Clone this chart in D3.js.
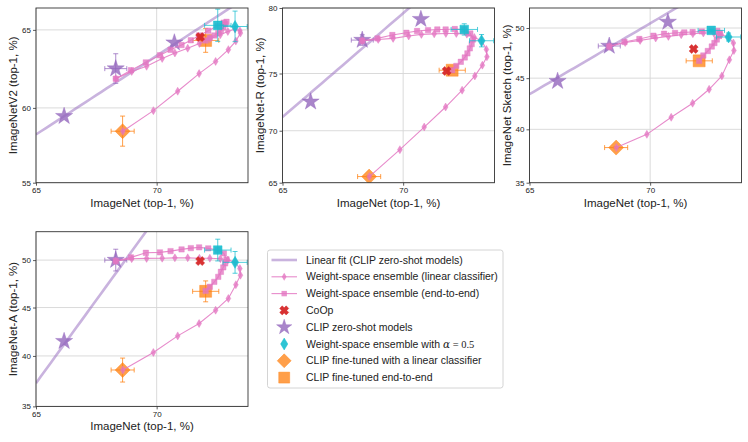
<!DOCTYPE html>
<html><head><meta charset="utf-8">
<script src="https://cdn.jsdelivr.net/npm/d3@7"></script>
<style>
body{margin:0;background:#fff}
svg{display:block}
text{font-family:"Liberation Sans",Arial,sans-serif;fill:#222}
</style>
</head><body>
<svg id="chart" width="748" height="442"></svg>
<script>
// ---------------- data ----------------
const xTicks = [65, 70];
const v2Ticks = [55, 60, 65];
const rTicks = [65, 70, 75, 80];
const sketchTicks = [35, 40, 45, 50];
const aTicks = [35, 40, 45, 50];

// ImageNet accuracies along the weight-space ensemble curves
const inLinear = [68.35, 69.0, 69.6, 70.22, 70.72, 71.22, 71.67, 72.07, 72.47, 72.75, 73.02, 73.2, 73.22, 73.05, 72.77, 72.29, 71.66, 70.83, 69.87, 68.64];
const inE2E = [68.35, 68.97, 69.57, 70.13, 70.55, 70.98, 71.34, 71.66, 72.01, 72.37, 72.6, 72.7, 72.65, 72.58, 72.49, 72.39, 72.24, 72.07, 71.91];

const v2Linear = [61.9, 62.37, 62.7, 63.2, 63.55, 63.85, 64.15, 64.45, 64.7, 64.9, 65.05, 64.95, 64.8, 64.3, 63.76, 63.01, 62.23, 61.09, 59.82, 58.46];
const rLinear = [77.6, 77.7, 77.78, 77.96, 78.08, 78.12, 78.15, 78.15, 78.1, 77.85, 77.6, 76.93, 76.35, 75.68, 74.8, 73.6, 72.14, 70.34, 68.22, 65.61];
const sketchLinear = [48.15, 48.55, 48.76, 49.0, 49.16, 49.33, 49.43, 49.5, 49.5, 49.33, 49.1, 48.5, 47.75, 46.82, 45.22, 43.9, 42.53, 41.16, 39.52, 38.26];
const aLinear = [49.9, 50.15, 50.18, 50.2, 50.24, 50.24, 50.2, 50.2, 50.15, 50.0, 49.8, 49.1, 48.4, 47.4, 45.95, 44.72, 43.33, 42.05, 40.35, 38.58];

const v2E2E = [61.9, 62.45, 62.95, 63.4, 63.75, 64.05, 64.35, 64.65, 64.95, 65.25, 65.45, 65.5, 65.35, 65.15, 64.95, 64.8, 64.65, 64.5, 64.34];
const rE2E = [77.6, 77.78, 78.03, 78.2, 78.33, 78.4, 78.45, 78.45, 78.48, 78.45, 78.15, 77.7, 77.34, 77.01, 76.62, 76.3, 75.95, 75.62, 75.27];
const sketchE2E = [48.15, 48.6, 48.9, 49.23, 49.43, 49.5, 49.56, 49.6, 49.66, 49.76, 49.7, 49.5, 49.2, 48.85, 48.5, 48.15, 47.7, 47.25, 46.72];
const aE2E = [49.9, 50.29, 50.77, 50.82, 50.95, 51.13, 51.27, 51.35, 51.24, 51.06, 50.71, 50.07, 49.65, 49.23, 48.76, 48.23, 47.7, 47.18, 46.75];

// CLIP zero-shot models
const inZeroShot = [66.2, 68.35, 70.7];
const inZeroShotErr = [0, 0.45, 0];
const v2ZeroShot = [59.45, 62.55, 64.2];
const v2ZeroShotErr = [0, 0.95, 0];
const rZeroShot = [72.6, 77.65, 79.2];
const rZeroShotErr = [0, 0.4, 0];
const sketchZeroShot = [44.7, 48.2, 50.6];
const sketchZeroShotErr = [0, 0.2, 0];
const aZeroShot = [41.5, 50.0];
const aZeroShotErr = [0, 1.15];

// linear fit of zero-shot models (logit space): [slope, intercept]
const v2Fit = [0.9436, -0.2515];
const rFit = [1.997, -0.3288];
const sketchFit = [1.2416, -1.0335];
const aFit = [3.08, -2.4272];

// single points: [ImageNet, ImageNet err] and per-dataset [value, err]
const inCoOp = 71.7;
const coop = {v2: 64.55, r: 75.21, sketch: 47.9, a: 49.9};
const inFtLinear = [68.63, 0.47];
const ftLinear = {v2: [58.46, 1.0], r: [65.61, 0.1], sketch: [38.26, 0.1], a: [38.58, 1.2]};
const inFtE2E = [71.91, 0.5];
const ftE2E = {v2: [64.34, 0.75], r: [75.27, 0.2], sketch: [46.72, 0.2], a: [46.7, 1.1]};
const inWseLin = [73.02, 0.45];
const wseLin = {v2: [65.21, 0.95], r: [77.6, 0.47], sketch: [49.1, 0.4], a: [49.76, 1.15]};
const inWseE2E = [72.37, 0.5];
const wseE2E = {v2: [65.28, 1.0], r: [78.45, 0.42], sketch: [49.76, 0.1], a: [51.06, 1.15]};

// ---------------- drawing ----------------
const C = {
  purple: '#9467bd', pink: '#e377c2', red: '#d62728', cyan: '#17becf', orange: '#ff7f0e',
  grid: '#d6d6d6', spine: '#333'
};
const logit = p => Math.log(p / (100 - p));
const expit = v => 100 / (1 + Math.exp(-v));

const panels = [
  {key: 'v2', label: 'ImageNetV2 (top-1, %)', left: 36, top: 8, ydom: [55, 66.35], yticks: v2Ticks,
   lin: v2Linear, e2e: v2E2E, zs: v2ZeroShot, zsErr: v2ZeroShotErr, fit: v2Fit},
  {key: 'r', label: 'ImageNet-R (top-1, %)', left: 282.5, top: 8, ydom: [65, 80], yticks: rTicks,
   lin: rLinear, e2e: rE2E, zs: rZeroShot, zsErr: rZeroShotErr, fit: rFit},
  {key: 'sketch', label: 'ImageNet Sketch (top-1, %)', left: 529.5, top: 8, ydom: [35, 52], yticks: sketchTicks,
   lin: sketchLinear, e2e: sketchE2E, zs: sketchZeroShot, zsErr: sketchZeroShotErr, fit: sketchFit},
  {key: 'a', label: 'ImageNet-A (top-1, %)', left: 36, top: 231.7, ydom: [35, 53], yticks: aTicks,
   lin: aLinear, e2e: aE2E, zs: aZeroShot, zsErr: aZeroShotErr, fit: aFit}
];
const W = 212, H = 174.7;
const xdom = [65, 73.5];

const svg = d3.select('#chart');

function diamondPath(hw, hh) { return `M0,${-hh}L${hw},0L0,${hh}L${-hw},0Z`; }
function squarePath(h) { return `M${-h},${-h}H${h}V${h}H${-h}Z`; }
function xPath(L, w) {
  // filled X: plus rotated 45deg
  const pts = [[w,w],[L,w],[L,-w],[w,-w],[w,-L],[-w,-L],[-w,-w],[-L,-w],[-L,w],[-w,w],[-w,L],[w,L]];
  const c = Math.SQRT1_2;
  return 'M' + pts.map(([x,y]) => [(x - y) * c, (x + y) * c].map(v => v.toFixed(2)).join(',')).join('L') + 'Z';
}
const starPath = r => d3.symbol(d3.symbolStar, r * r / 0.8908130915292852)();

panels.forEach((p, pi) => {
  const g = svg.append('g').attr('transform', `translate(${p.left},${p.top})`);
  const sx = d3.scaleLinear().domain(xdom.map(logit)).range([0, W]);
  const sy = d3.scaleLinear().domain(p.ydom.map(logit)).range([H, 0]);
  const X = v => sx(logit(v)), Y = v => sy(logit(v));

  const clipId = 'clip' + pi;
  g.append('clipPath').attr('id', clipId).append('rect').attr('width', W).attr('height', H);

  // grid
  g.append('g').selectAll('line').data(xTicks).join('line')
    .attr('x1', d => X(d)).attr('x2', d => X(d)).attr('y1', 0).attr('y2', H)
    .attr('stroke', C.grid).attr('stroke-width', 0.9);
  g.append('g').selectAll('line').data(p.yticks).join('line')
    .attr('y1', d => Y(d)).attr('y2', d => Y(d)).attr('x1', 0).attr('x2', W)
    .attr('stroke', C.grid).attr('stroke-width', 0.9);

  // axes
  const ax = g.append('g').attr('transform', `translate(0,${H})`)
    .call(d3.axisBottom(sx).tickValues(xTicks.map(logit)).tickFormat(d => Math.round(expit(d))).tickSize(3).tickPadding(2));
  const ay = g.append('g')
    .call(d3.axisLeft(sy).tickValues(p.yticks.map(logit)).tickFormat(d => Math.round(expit(d))).tickSize(3).tickPadding(2));
  [ax, ay].forEach(a => {
    a.select('.domain').remove();
    a.selectAll('line').attr('stroke', C.spine).attr('stroke-width', 0.8);
    a.selectAll('text').style('font-size', '8px').attr('fill', '#222');
  });

  const plot = g.append('g').attr('clip-path', `url(#${clipId})`);

  // linear fit line
  const [slope, icpt] = p.fit;
  const fitXs = d3.range(0, 41).map(i => xdom[0] + (xdom[1] - xdom[0]) * i / 40);
  plot.append('path')
    .attr('d', d3.line().x(d => X(d)).y(d => sy(icpt + slope * logit(d)))(fitXs))
    .attr('fill', 'none').attr('stroke', C.purple).attr('stroke-opacity', 0.5).attr('stroke-width', 2.6);

  function errbar(x, xe, y, ye, color) {
    const eg = plot.append('g').attr('stroke', color).attr('stroke-width', 1).attr('stroke-opacity', 0.75);
    const cap = 2.5;
    if (xe > 0) {
      eg.append('line').attr('x1', X(x - xe)).attr('x2', X(x + xe)).attr('y1', Y(y)).attr('y2', Y(y));
      [x - xe, x + xe].forEach(v => eg.append('line').attr('x1', X(v)).attr('x2', X(v)).attr('y1', Y(y) - cap).attr('y2', Y(y) + cap));
    }
    if (ye > 0) {
      eg.append('line').attr('y1', Y(y - ye)).attr('y2', Y(y + ye)).attr('x1', X(x)).attr('x2', X(x));
      [y - ye, y + ye].forEach(v => eg.append('line').attr('y1', Y(v)).attr('y2', Y(v)).attr('x1', X(x) - cap).attr('x2', X(x) + cap));
    }
  }
  function marker(x, y, d, color, op) {
    plot.append('path').attr('d', d).attr('transform', `translate(${X(x)},${Y(y)})`)
      .attr('fill', color).attr('fill-opacity', op).attr('stroke', color).attr('stroke-opacity', op).attr('stroke-width', 0.5);
  }

  // zero-shot stars
  p.zs.forEach((v, i) => {
    errbar(inZeroShot[i], inZeroShotErr[i], v, p.zsErr[i], C.purple);
    marker(inZeroShot[i], v, starPath(9), C.purple, 0.8);
  });

  // fine-tuned
  const fl = ftLinear[p.key], fe = ftE2E[p.key];
  errbar(inFtLinear[0], inFtLinear[1], fl[0], fl[1], C.orange);
  marker(inFtLinear[0], fl[0], diamondPath(7.5, 7.5), C.orange, 0.75);
  errbar(inFtE2E[0], inFtE2E[1], fe[0], fe[1], C.orange);
  marker(inFtE2E[0], fe[0], squarePath(6), C.orange, 0.75);

  // WiSE-FT curves
  const curve = (xs, ys, mk) => {
    const pts = xs.map((x, i) => [x, ys[i]]);
    plot.append('path').attr('d', d3.line().x(d => X(d[0])).y(d => Y(d[1]))(pts))
      .attr('fill', 'none').attr('stroke', C.pink).attr('stroke-opacity', 0.85).attr('stroke-width', 1.1);
    pts.forEach(d => marker(d[0], d[1], mk, C.pink, 0.8));
  };
  curve(inLinear, p.lin, diamondPath(2.4, 4));
  curve(inE2E, p.e2e, squarePath(2.7));

  // CoOp
  marker(inCoOp, coop[p.key], xPath(4.6, 1.8), C.red, 0.95);

  // WiSE-FT alpha = 0.5
  const wl = wseLin[p.key], we = wseE2E[p.key];
  errbar(inWseE2E[0], inWseE2E[1], we[0], we[1], C.cyan);
  marker(inWseE2E[0], we[0], squarePath(4.3), C.cyan, 0.9);
  errbar(inWseLin[0], inWseLin[1], wl[0], wl[1], C.cyan);
  marker(inWseLin[0], wl[0], diamondPath(3.6, 6), C.cyan, 0.9);

  // frame
  g.append('rect').attr('width', W).attr('height', H).attr('fill', 'none')
    .attr('stroke', C.spine).attr('stroke-width', 0.9);

  // labels
  g.append('text').attr('x', W / 2).attr('y', H + 24).attr('text-anchor', 'middle')
    .style('font-size', '11.5px').text('ImageNet (top-1, %)');
  g.append('text').attr('transform', `translate(-23,${H / 2}) rotate(-90)`).attr('text-anchor', 'middle')
    .attr('dy', '0.35em').style('font-size', '11.5px').text(p.label);
});

// ---------------- legend ----------------
const lg = svg.append('g').attr('transform', 'translate(267.5,250)');
lg.append('rect').attr('width', 235.5).attr('height', 138).attr('rx', 2.5)
  .attr('fill', '#fff').attr('stroke', '#cfcfcf').attr('stroke-width', 0.9);
const legendItems = [
  {label: 'Linear fit (CLIP zero-shot models)', type: 'fit'},
  {label: 'Weight-space ensemble (linear classifier)', type: 'curve', mk: diamondPath(2.4, 4)},
  {label: 'Weight-space ensemble (end-to-end)', type: 'curve', mk: squarePath(2.7)},
  {label: 'CoOp', type: 'pt', mk: xPath(4.6, 1.8), color: C.red, op: 0.95},
  {label: 'CLIP zero-shot models', type: 'pt', mk: starPath(8), color: C.purple, op: 0.8},
  {label: 'alpha', type: 'pt', mk: diamondPath(3.6, 6), color: C.cyan, op: 0.9},
  {label: 'CLIP fine-tuned with a linear classifier', type: 'pt', mk: diamondPath(7, 7), color: C.orange, op: 0.75},
  {label: 'CLIP fine-tuned end-to-end', type: 'pt', mk: squarePath(5.5), color: C.orange, op: 0.75}
];
legendItems.forEach((it, i) => {
  const y = 10 + i * 16.8;
  const row = lg.append('g').attr('transform', `translate(0,${y})`);
  if (it.type === 'fit') {
    row.append('line').attr('x1', 4).attr('x2', 29.5).attr('stroke', C.purple).attr('stroke-opacity', 0.5).attr('stroke-width', 2.6);
  } else if (it.type === 'curve') {
    row.append('line').attr('x1', 4).attr('x2', 29.5).attr('stroke', C.pink).attr('stroke-opacity', 0.85).attr('stroke-width', 1.1);
    row.append('path').attr('d', it.mk).attr('transform', 'translate(16.7,0)').attr('fill', C.pink).attr('fill-opacity', 0.8);
  } else {
    row.append('path').attr('d', it.mk).attr('transform', 'translate(16.7,0)')
      .attr('fill', it.color).attr('fill-opacity', it.op).attr('stroke', it.color).attr('stroke-opacity', it.op).attr('stroke-width', 0.5);
  }
  const t = row.append('text').attr('x', 38.5).attr('dy', '0.35em').style('font-size', '10.5px');
  if (it.label === 'alpha') {
    t.append('tspan').text('Weight-space ensemble with ');
    t.append('tspan').style('font-family', '"DejaVu Serif","Liberation Serif",serif').style('font-style', 'italic').text('α');
    t.append('tspan').style('font-family', '"Liberation Serif",serif').text(' = 0.5');
  } else {
    t.text(it.label);
  }
});
</script>
</body></html>
